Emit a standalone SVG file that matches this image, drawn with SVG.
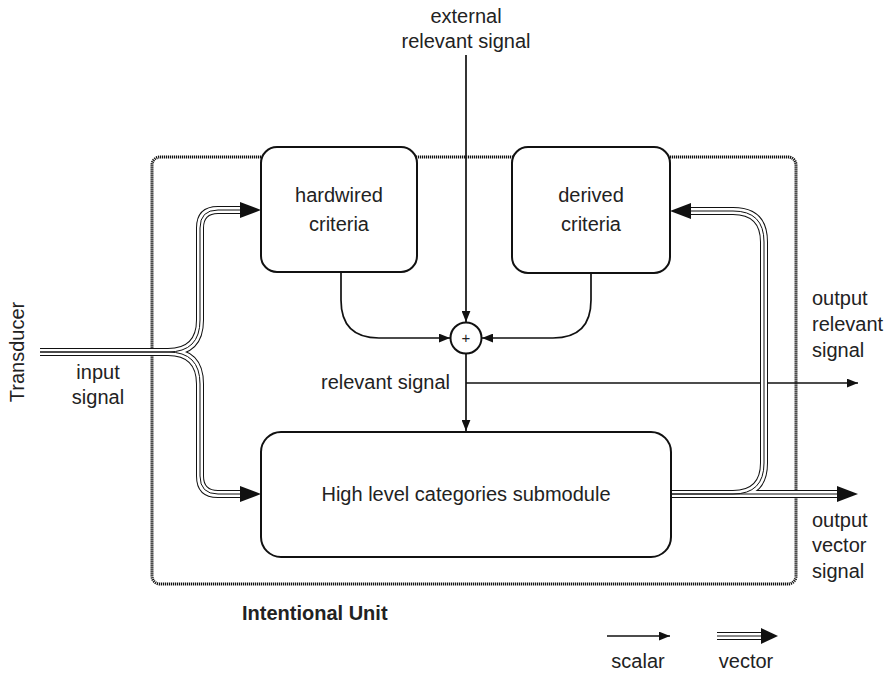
<svg xmlns="http://www.w3.org/2000/svg" xmlns:xlink="http://www.w3.org/1999/xlink" width="893" height="673" viewBox="0 0 893 673">
<style>
text{font-family:"Liberation Sans",Arial,sans-serif;font-size:20px;fill:#222}
.c{text-anchor:middle}
.b{font-weight:bold}
.box{fill:#fff;stroke:#111;stroke-width:2}
.outer{fill:none;stroke:#111;stroke-width:3;stroke-dasharray:1.2 0.8}
.s{fill:none;stroke:#111;stroke-width:1.7}
.va{fill:none;stroke:#111;stroke-width:8;stroke-linejoin:round}
.vb{fill:none;stroke:#fff;stroke-width:6;stroke-linejoin:round}
.vc{fill:none;stroke:#111;stroke-width:1;stroke-linejoin:round}
.ah{fill:#111}
</style>
<defs>
<marker id="sa" viewBox="0 0 10 8" refX="10" refY="4" markerWidth="11" markerHeight="9" markerUnits="userSpaceOnUse" orient="auto">
<path d="M0,0 L10,4 L0,8 Z" fill="#111"/>
</marker>
<path id="pin1" d="M40,352 H168 Q200,352 200,320 V228 Q200,210 218,210 H242"/>
<path id="pin2" d="M40,352 H168 Q200,352 200,384 V476 Q200,494 218,494 H242"/>
<path id="pout1" d="M671,494 H839"/>
<path id="pout2" d="M671,494 H733 Q764,494 764,463 V242 Q764,211 733,211 H690"/>
<path id="pleg" d="M717,636 H762"/>
</defs>

<rect id="intentional-unit" class="outer" x="152" y="157" width="644" height="427" rx="8"/>

<g id="connectors">
<path class="s" d="M466,55 V322" marker-end="url(#sa)"/>
<path class="s" d="M341,272 V300 Q341,338 379,338 H450" marker-end="url(#sa)"/>
<path class="s" d="M591,273 V300 Q591,338 553,338 H482" marker-end="url(#sa)"/>
<path class="s" d="M466,354 V431" marker-end="url(#sa)"/>
<path class="s" d="M466,383 H858" marker-end="url(#sa)"/>
<path class="s" d="M607,636 H670" marker-end="url(#sa)"/>

<use xlink:href="#pin1" class="va"/><use xlink:href="#pin2" class="va"/>
<use xlink:href="#pout1" class="va"/><use xlink:href="#pout2" class="va"/>
<use xlink:href="#pleg" class="va"/>
<use xlink:href="#pin1" class="vb"/><use xlink:href="#pin2" class="vb"/>
<use xlink:href="#pout1" class="vb"/><use xlink:href="#pout2" class="vb"/>
<use xlink:href="#pleg" class="vb"/>
<use xlink:href="#pin1" class="vc"/><use xlink:href="#pin2" class="vc"/>
<use xlink:href="#pout1" class="vc"/><use xlink:href="#pout2" class="vc"/>
<use xlink:href="#pleg" class="vc"/>

<polygon class="ah" points="240,202 261,210 240,218"/>
<polygon class="ah" points="240,486 261,494 240,502"/>
<polygon class="ah" points="837,486 858,494 837,502"/>
<polygon class="ah" points="691,203 670,211 691,219"/>
<polygon class="ah" points="761,628 778,636 761,644"/>
</g>

<g id="hardwired">
<rect class="box" x="261" y="147" width="156" height="125" rx="16"/>
<text class="c" x="339" y="202">hardwired</text>
<text class="c" x="339" y="231">criteria</text>
</g>
<g id="derived">
<rect class="box" x="512" y="147" width="158" height="126" rx="16"/>
<text class="c" x="591" y="202">derived</text>
<text class="c" x="591" y="231">criteria</text>
</g>
<g id="submodule">
<rect class="box" x="261" y="432" width="410" height="125" rx="20"/>
<text class="c" x="466" y="501">High level categories submodule</text>
</g>
<g id="sum">
<circle cx="466" cy="338" r="15.5" fill="#fff" stroke="#111" stroke-width="2"/>
<text class="c" x="466" y="343" style="font-size:15px">+</text>
</g>

<g id="labels">
<text class="c" x="466" y="23">external</text>
<text class="c" x="466" y="48">relevant signal</text>
<text x="321" y="389">relevant signal</text>
<text class="c" transform="translate(24,352) rotate(-90)">Transducer</text>
<text class="c" x="98" y="379">input</text>
<text class="c" x="98" y="404">signal</text>
<text x="812" y="305">output</text>
<text x="812" y="331">relevant</text>
<text x="812" y="357">signal</text>
<text x="812" y="527">output</text>
<text x="812" y="552">vector</text>
<text x="812" y="578">signal</text>
<text class="b" x="242" y="620">Intentional Unit</text>
<text class="c" x="638" y="668">scalar</text>
<text class="c" x="746" y="668">vector</text>
</g>
</svg>
